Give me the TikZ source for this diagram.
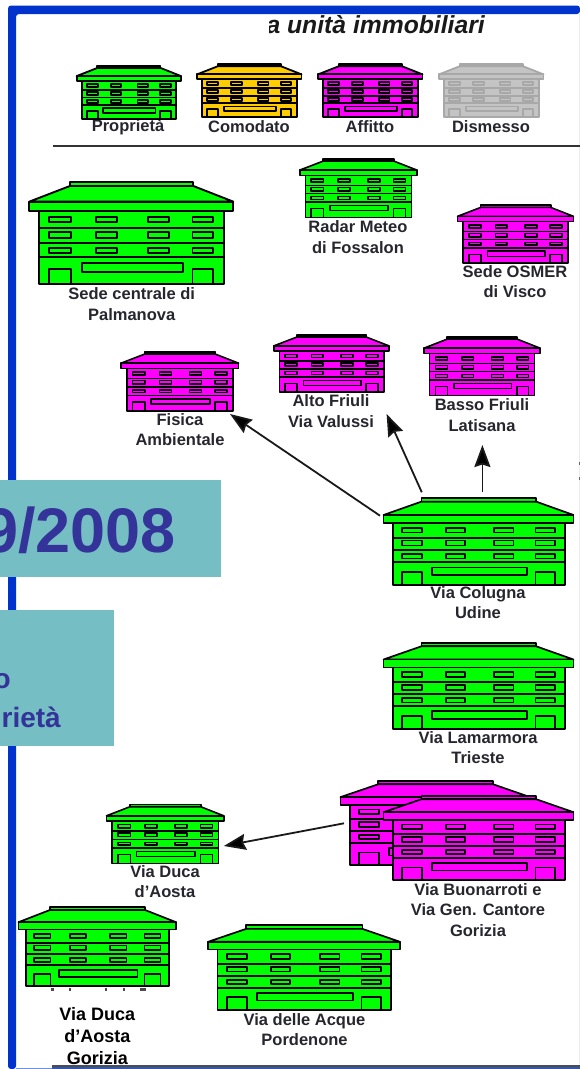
\documentclass[tikz,border=0pt]{standalone}
\usepackage{fontspec}
\setmainfont{Liberation Sans}
\usetikzlibrary{arrows.meta}
\definecolor{frameblue}{HTML}{0033CC}
\definecolor{tealbox}{HTML}{74BEC4}
\definecolor{navytext}{HTML}{333399}
\definecolor{lbl}{HTML}{26262E}
\definecolor{gold}{HTML}{FFCC00}
\definecolor{mag}{HTML}{FF00FF}
\definecolor{grn}{HTML}{00FF00}
\definecolor{gry}{HTML}{C4C4C4}
\definecolor{gryline}{HTML}{A8A8A8}
\definecolor{baseblue}{HTML}{3355AA}
\definecolor{paleblue}{HTML}{6F8FE0}
\tikzset{
  lab/.style={inner sep=0pt,align=center,text=lbl,font=\bfseries\fontsize{16.5}{20.5}\selectfont},
  flow/.style={line width=1.8pt,draw=black!90,-{Stealth[length=22pt,width=16pt,inset=2.5pt,fill=black]}},
  tealfill/.style={fill=tealbox,draw=none},
  bigtext/.style={inner sep=0pt,text=navytext},
}
% \building{x}{y}{w}{h}{fill}{line}{line width}
\newcommand{\building}[7]{%
\begin{scope}[shift={(#1,#2)},x=#3pt,y=-#4pt,draw=#6,line width=#7pt,line join=round]
  \filldraw[fill=#5] (.199,0) rectangle (.804,.042);
  \filldraw[fill=#5] (.199,.042) -- (0,.195) -- (1,.195) -- (.804,.042) -- cycle;
  \filldraw[fill=#5] (.049,.287) rectangle (.954,1);
  \filldraw[fill=#5] (0,.195) rectangle (1,.287);
  \draw (.049,.456) -- (.954,.456) (.049,.596) -- (.954,.596) (.049,.739) -- (.954,.739);
  \foreach \ua/\ub in {.098/.203,.327/.428,.583/.685,.80/.902}{
    \draw (\ua,.342) rectangle (\ub,.397);
    \draw (\ua,.489) rectangle (\ub,.547);
    \draw (\ua,.645) rectangle (\ub,.694);
  }
  \draw (.098,1) -- (.098,.85) -- (.203,.85) -- (.203,1);
  \draw (.80,1) -- (.80,.85) -- (.902,.85) -- (.902,1);
  \draw (.2565,.798) rectangle (.755,.886);
\end{scope}}
\begin{document}
\begin{tikzpicture}[x=1pt,y=-1pt]
\useasboundingbox (0,0) rectangle (580,1069);
\clip (0,0) rectangle (580,1069);
\fill[white] (0,0) rectangle (580,1069);
% page frame
\fill[frameblue,rounded corners=3pt] (8,5.5) -- (580,5.5) -- (580,14) -- (16,14) -- (16,1069) -- (8,1069) -- cycle;
\fill[black!8] (578.8,14) rectangle (580,1065);
\fill[black!60] (578.6,461.5) rectangle (580,464.5);
\fill[black!60] (578.6,476.5) rectangle (580,479.5);
\fill[black!70] (52,1065) rectangle (580,1067.3);
\fill[baseblue] (52,1067.3) rectangle (580,1069);
\fill[paleblue] (16,1068) rectangle (52,1069);
% title
\begin{scope}
  \clip (269.5,15) rectangle (580,45);
  \node[inner sep=0pt,anchor=base east,text=black!90,font=\bfseries\itshape\fontsize{24.7}{28}\selectfont] (title) at (485,33) {a unità immobiliari};
\end{scope}
% separator
\coordinate (sepL) at (52.5,146);
\coordinate (sepR) at (580,146);
\draw[line width=1.5pt,draw=black!80] (sepL) -- (sepR);
% labels (under the buildings)
\node[lab] (lprop) at (128,127) {Proprietà};
\node[lab] (lcomo) at (249,127) {Comodato};
\node[lab] (laff) at (370,127) {Affitto};
\node[lab] (ldism) at (491,127) {Dismesso};
\node[lab] (lsede) at (131.7,304) {Sede centrale di\\Palmanova};
\node[lab] (lradar) at (358,237) {Radar Meteo\\di Fossalon};
\node[lab] (losmer) at (515,281.5) {Sede OSMER\\di Visco};
\node[lab] (lfis) at (180,429.5) {Fisica\\Ambientale};
\node[lab] (lalto) at (331,411) {Alto Friuli\\Via Valussi};
\node[lab] (lbasso) at (482,415) {Basso Friuli\\Latisana};
\node[lab] (lcol) at (478,602.7) {Via Colugna\\Udine};
\node[lab] (llam) at (478,747.5) {Via Lamarmora\\Trieste};
\node[lab] (lbuon) at (478,910) {Via Buonarroti e\\Via Gen. Cantore\\Gorizia};
\begin{scope}
  \clip (110,860) -- (220,860) -- (220,897) -- (172,897) -- (172,882) -- (165,887.5) -- (146,887.5) -- (134,882) -- (134,897) -- (110,897) -- cycle;
  \node[lab] (lduca) at (165,881.5) {Via Duca\\d'Aosta};
\end{scope}
\begin{scope}
  \clip (134,882) -- (146,887.5) -- (165,887.5) -- (172,882) -- (172,897) -- (134,897) -- cycle;
  \node[lab] (lducb) at (165,881.5) {\phantom{Via Duca}\\d'Aosta};
\end{scope}
\node[lab] (lacque) at (304.5,1029.5) {Via delle Acque\\Pordenone};
% legend buildings
\building{76.6}{65.7}{104.4}{53.3}{grn}{black}{1.8}
\building{197}{64}{104.5}{53.3}{gold}{black}{1.8}
\building{318}{64}{104.5}{53.3}{mag}{black}{1.8}
\building{439}{64}{104.5}{53.3}{gry}{gryline}{1.8}
% site buildings
\building{29.3}{181.7}{204}{102.3}{grn}{black}{1.9}
\building{299.7}{158.7}{117.3}{58.6}{grn}{black}{1.6}
\building{457.6}{205}{115.8}{58}{mag}{black}{1.6}
\building{121}{351.7}{117.6}{59}{mag}{black}{1.6}
\building{273.8}{334.7}{115.2}{57.3}{mag}{black}{1.6}
\building{424}{336.7}{116}{58.6}{mag}{black}{1.6}
\building{383.6}{498}{189.8}{87}{grn}{black}{1.7}
\building{383.6}{642.7}{189.8}{86}{grn}{black}{1.7}
\building{106.5}{804.3}{117.3}{59}{grn}{black}{1.6}
\building{340.4}{780.7}{189.8}{84.3}{mag}{black}{1.7}
\building{383.6}{795.7}{189.8}{84.3}{mag}{black}{1.7}
\building{18.5}{906.7}{157.5}{79.3}{grn}{black}{1.7}
\building{208}{925.3}{192}{84.7}{grn}{black}{1.7}
% cut-off text remains under the Gorizia building
\foreach \fx/\fw in {51/3,69/1.5,105/1.5,123/1.5,140/6}{\fill[black!70] (\fx,988) rectangle ++(\fw,2.5);}
\node[inner sep=0pt,align=center,text=black,font=\bfseries\fontsize{18}{22.3}\selectfont] (lduca2) at (97.3,1036) {Via Duca\\d’Aosta\\Gorizia};
% arrows
\coordinate (a1s) at (380,515.7); \coordinate (a1e) at (230,414);
\coordinate (a2s) at (421.8,492.3); \coordinate (a2e) at (386.6,414);
\coordinate (a3s) at (482.4,492.3); \coordinate (a3e) at (482.4,445);
\coordinate (a4s) at (344,823.3); \coordinate (a4e) at (223.8,846);
\draw[flow] (a1s) -- (a1e);
\draw[flow] (a2s) -- (a2e);
\draw[flow] (a3s) -- (a3e);
\draw[flow] (a4s) -- (a4e);
% overlay boxes
\fill[tealfill] (0,480) rectangle (221,577);
\node[bigtext,anchor=base east,font=\bfseries\fontsize{63}{70}\selectfont] (date) at (176,552) {9/2008};
\fill[tealfill] (0,610) rectangle (114,746);
\node[bigtext,anchor=base east,font=\bfseries\fontsize{28}{30}\selectfont] (bo) at (11,688) {o};
\node[bigtext,anchor=base east,font=\bfseries\fontsize{28}{30}\selectfont] (brieta) at (61,727) {rietà};
\end{tikzpicture}
\end{document}
